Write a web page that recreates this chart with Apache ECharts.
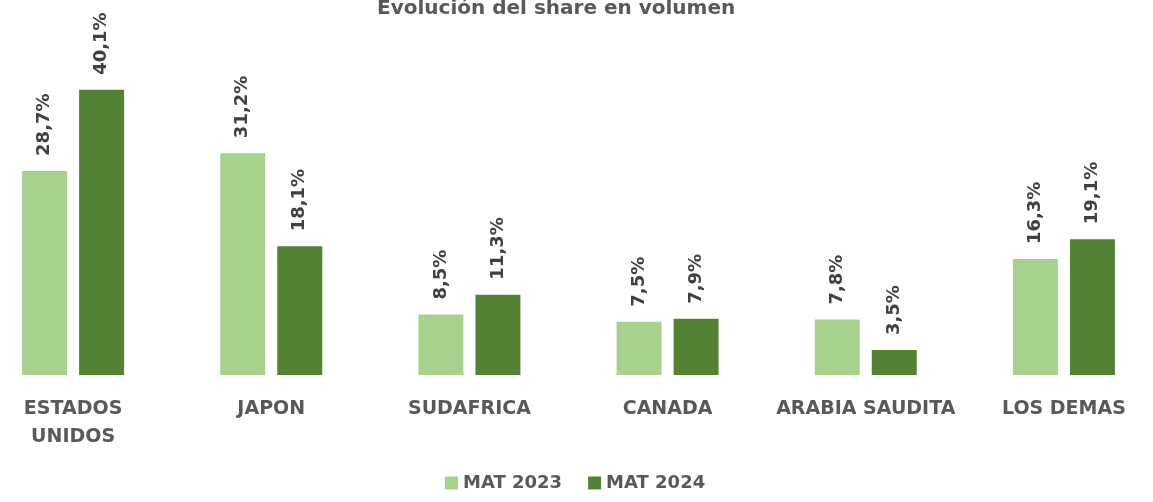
<!DOCTYPE html>
<html><head><meta charset="utf-8">
<script src="https://cdn.jsdelivr.net/npm/echarts@6/dist/echarts.min.js"></script>
<style>html,body{margin:0;padding:0;background:#fff;overflow:hidden;width:1153px;height:502px;position:relative}
#c{position:absolute;left:-26px;top:0;width:1189px;height:502px}</style>
</head><body><div id="c"></div>
<script>
var categories = ['ESTADOS\nUNIDOS', 'JAPON', 'SUDAFRICA', 'CANADA', 'ARABIA SAUDITA', 'LOS DEMAS'];
var mat2023 = [28.7, 31.2, 8.5, 7.5, 7.8, 16.3];
var mat2024 = [40.1, 18.1, 11.3, 7.9, 3.5, 19.1];
var seriesNames = ['MAT 2023', 'MAT 2024'];
var FONT = 'DejaVu Sans';
function lbl(p){ return p.value.toFixed(1).replace('.', ',') + '%'; }
var labelCfg = {show:true, position:'top', rotate:90, align:'left', verticalAlign:'middle', distance:15,
  formatter:lbl, color:'#404040', fontFamily:FONT, fontWeight:'bold', fontSize:18};
var chart = echarts.init(document.getElementById('c'));
chart.setOption({
  animation:false,
  title:{text:'Evolución del share en volumen', left:398, top:-6,
    textStyle:{color:'#595959', fontFamily:FONT, fontWeight:'bold', fontSize:20}},
  legend:{bottom:5, left:466, itemWidth:13, itemHeight:13, itemGap:26, icon:'rect',
    textStyle:{color:'#595959', fontFamily:FONT, fontWeight:'bold', fontSize:18}},
  grid:{left:0, right:0, top:55, bottom:127, containLabel:false},
  xAxis:{type:'category', data:categories, axisLine:{show:false}, axisTick:{show:false},
    axisLabel:{interval:0, margin:20, color:'#595959', fontFamily:FONT, fontWeight:'bold', fontSize:19, lineHeight:28}},
  yAxis:{type:'value', min:0, max:45, show:false, splitLine:{show:false}},
  series:[
    {name:seriesNames[0], type:'bar', data:mat2023, barWidth:45, barGap:'26.7%',
      itemStyle:{color:'#A9D18E'}, label:labelCfg},
    {name:seriesNames[1], type:'bar', data:mat2024, barWidth:45,
      itemStyle:{color:'#548235'}, label:labelCfg}
  ]
});
</script></body></html>
